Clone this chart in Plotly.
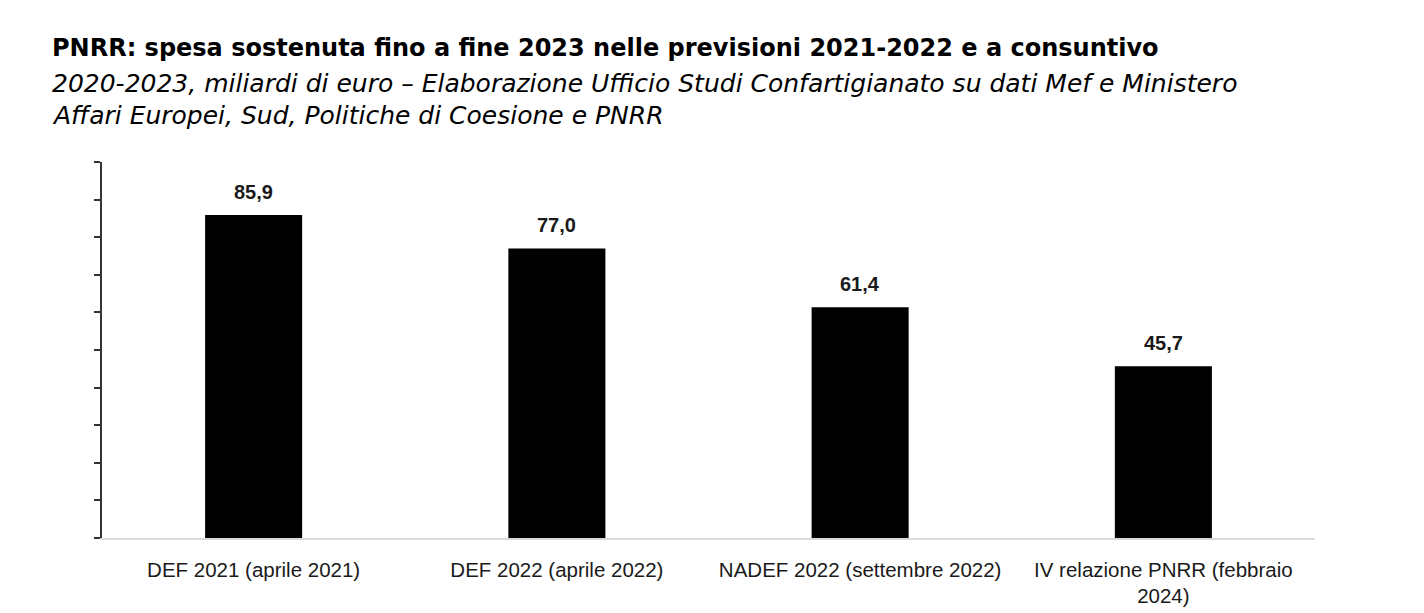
import plotly.graph_objects as go

categorie = ["DEF 2021 (aprile 2021)", "DEF 2022 (aprile 2022)",
             "NADEF 2022 (settembre 2022)", "IV relazione PNRR (febbraio<br>2024)"]
spesa = [85.9, 77.0, 61.4, 45.7]

titolo = "PNRR: spesa sostenuta fino a fine 2023 nelle previsioni 2021-2022 e a consuntivo"
sottotitolo = ["2020-2023, miliardi di euro – Elaborazione Ufficio Studi Confartigianato su dati Mef e Ministero",
               "Affari Europei, Sud, Politiche di Coesione e PNRR"]

etichette = [f"{v:.1f}".replace(".", ",") for v in spesa]

# il body della pagina ha 8px di margine
W, H = 1416, 605
L, T, R, B = 94, 154, 109, 75
ph = H - T - B
pw = W - L - R

fig = go.Figure(go.Bar(
    x=categorie, y=spesa,
    marker_color="black", marker_line_width=0,
))

for c, v, e in zip(categorie, spesa, etichette):
    fig.add_annotation(x=c, y=v, text="<b>" + e + "</b>", showarrow=False,
                       yanchor="bottom", yshift=10,
                       font=dict(family="Liberation Sans", size=20, color="#1a1a1a"))

fig.update_layout(
    width=W, height=H,
    margin=dict(l=L, r=R, t=T, b=B),
    paper_bgcolor="white", plot_bgcolor="white",
    bargap=0.68, showlegend=False,
    font=dict(family="Liberation Sans", color="#1a1a1a"),
)
fig.update_yaxes(range=[0, 100], dtick=10, showticklabels=False, showgrid=False,
                 zeroline=False, showline=True, linecolor="#333333", linewidth=2,
                 ticks="outside", ticklen=6, tickwidth=2, tickcolor="#333333")
fig.update_xaxes(showline=True, linecolor="#d9d9d9", linewidth=2, showgrid=False, automargin=False,
                 tickfont=dict(size=20.5, color="#1a1a1a"), ticks="", ticklabelstandoff=12)

def ytop(px):
    return 1 + (T - px) / ph

x0 = -52 / pw
fig.add_annotation(text="<b>" + titolo + "</b>",
                   xref="paper", yref="paper", x=x0, y=ytop(24), xanchor="left", yanchor="top",
                   showarrow=False, font=dict(family="DejaVu Sans", size=24, color="black"))
for i, riga in enumerate(sottotitolo):
    fig.add_annotation(text="<i>" + riga + "</i>",
                       xref="paper", yref="paper", x=x0, y=ytop(58.5 + 33 * i), xanchor="left", yanchor="top",
                       showarrow=False, font=dict(family="DejaVu Sans", size=25, color="black"))

fig.write_html("out.html")
